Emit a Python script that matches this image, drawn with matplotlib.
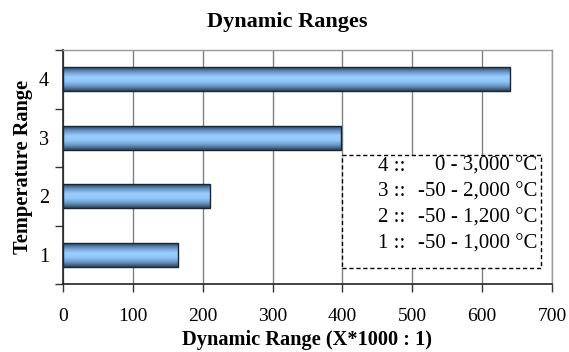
import matplotlib
matplotlib.use("Agg")
import matplotlib.pyplot as plt
import numpy as np
from matplotlib.colors import LinearSegmentedColormap
from matplotlib.patches import Rectangle

categories = ["1", "2", "3", "4"]
values = [165, 210, 398, 640]
range_labels = ["-50 - 1,000 °C", "-50 - 1,200 °C", "-50 - 2,000 °C", "0 - 3,000 °C"]
xticks = [0, 100, 200, 300, 400, 500, 600, 700]

plt.rcParams['font.family'] = ['Liberation Serif', 'DejaVu Serif']

W, H = 569, 352
fig = plt.figure(figsize=(W / 100, H / 100), dpi=100)
L, R, T, B = 63, 552, 50, 284
ax = fig.add_axes([L / W, 1 - B / H, (R - L) / W, (B - T) / H])

ypos = np.arange(1, len(categories) + 1)
bars = ax.barh(ypos, values, height=0.41, facecolor='none', edgecolor='#1a2530', linewidth=1.0, zorder=3)

cmap = LinearSegmentedColormap.from_list('g', ['#2c4660', '#6a98c8', '#99ccff', '#93c6f8', '#6a96c4', '#2c4660'])
grad = np.linspace(0, 1, 64).reshape(-1, 1)
for b in bars:
    x0, y0 = b.get_x(), b.get_y()
    w, h = b.get_width(), b.get_height()
    im = ax.imshow(grad, cmap=cmap, aspect='auto', extent=[x0, x0 + w, y0, y0 + h],
                   origin='upper', zorder=2, interpolation='bilinear')
    im.set_clip_path(b)

ax.set_xlim(0, 700)
ax.set_ylim(0.5, 4.5)
ax.set_xticks(xticks)
ax.set_xticklabels([str(t) for t in xticks], fontsize=14)
ax.set_yticks(ypos)
ax.set_yticklabels(categories, fontsize=14.5)
ax.set_yticks(np.arange(0.5, 4.6, 1.0), minor=True)
ax.tick_params(axis='y', which='major', length=0, pad=10)
ax.tick_params(axis='y', which='minor', length=6, direction='out', width=1, color='#333333')
ax.tick_params(axis='x', which='major', length=6, direction='out', width=1, color='#333333', pad=11)

ax.grid(axis='x', color='#808080', linewidth=1.0, zorder=1)
for s in ['top', 'right']:
    ax.spines[s].set_color('#999999')
    ax.spines[s].set_linewidth(1.0)
for s in ['left', 'bottom']:
    ax.spines[s].set_color('#222222')
    ax.spines[s].set_linewidth(1.2)

ax.set_xlabel('Dynamic Range (X*1000 : 1)', fontsize=14.7, fontweight='bold', labelpad=4)
ax.set_ylabel('Temperature Range', fontsize=14.7, fontweight='bold', labelpad=4)
fig.text(287 / W, 1 - 22 / H, 'Dynamic Ranges', fontsize=16, fontweight='bold', ha='center', va='center')

# legend-like text box
bx0, bx1, by0, by1 = 342, 541, 155, 268
fig.patches.append(Rectangle((bx0 / W, 1 - by1 / H), (bx1 - bx0) / W, (by1 - by0) / H,
                             transform=fig.transFigure, facecolor='white', edgecolor='black',
                             linestyle=(0, (3, 2)), linewidth=1.0, zorder=5))
row_y = [244, 218, 192, 166]
for cat, lab, yy in zip(categories, range_labels, row_y):
    fig.text(405 / W, 1 - yy / H, f"{cat} ::", fontsize=15, ha='right', va='center', zorder=6)
    fig.text(537 / W, 1 - yy / H, lab, fontsize=15, ha='right', va='center', zorder=6)

fig.savefig('out.png', dpi=100)
